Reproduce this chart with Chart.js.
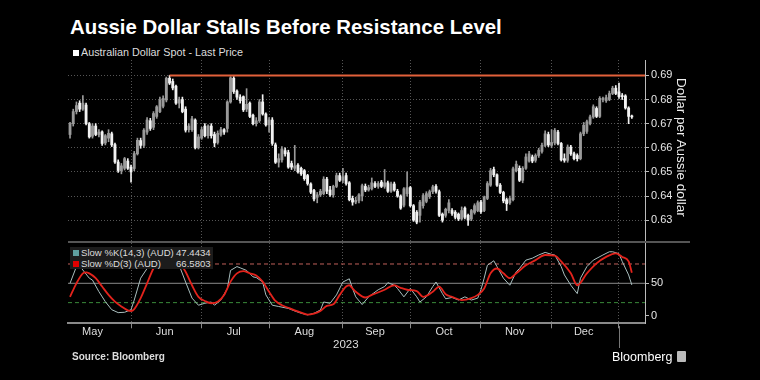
<!DOCTYPE html>
<html><head><meta charset="utf-8">
<script src="https://cdn.jsdelivr.net/npm/chart.js@4.4.0/dist/chart.umd.min.js"></script>
<style>
html,body{margin:0;padding:0;background:#000;width:760px;height:380px;overflow:hidden;}
#wrap{position:relative;width:760px;height:380px;background:#000;}
.t{position:absolute;color:#fff;font-family:"Liberation Sans",Arial,sans-serif;white-space:nowrap;line-height:1;}
canvas{position:absolute;left:0;}
</style></head><body>
<div id="wrap">
<div class="t" style="left:70px;top:17px;font-size:20.4px;font-weight:bold;">Aussie Dollar Stalls Before Resistance Level</div>
<div class="t" style="left:73px;top:47px;font-size:10.8px;color:#ddd;"><span style="display:inline-block;width:6px;height:6px;background:#fff;margin-right:2px;"></span>Australian Dollar Spot - Last Price</div>
<canvas id="c1" width="760" height="182" style="top:60px;"></canvas>
<div style="position:absolute;left:68px;top:241px;width:622px;height:2px;background:#555;"></div>
<canvas id="c2" width="760" height="110" style="top:243px;"></canvas>
<div class="t" style="left:674px;top:78px;font-size:13.5px;color:#eee;writing-mode:vertical-rl;">Dollar per Aussie dollar</div>
<div style="position:absolute;left:70px;top:247px;width:143px;height:22px;background:#1c1c1c;"></div>
<div class="t" style="left:73px;top:248px;font-size:9.6px;color:#ddd;"><span style="display:inline-block;width:6px;height:6px;background:#5f9f9f;margin-right:2px;"></span>Slow %K(14,3) (AUD)</div>
<div class="t" style="left:176px;top:248px;font-size:9.6px;color:#ddd;">47.4434</div>
<div class="t" style="left:73px;top:259px;font-size:9.6px;color:#ddd;"><span style="display:inline-block;width:6px;height:6px;background:#e00000;margin-right:2px;"></span>Slow %D(3) (AUD)</div>
<div class="t" style="left:176px;top:259px;font-size:9.6px;color:#ddd;">66.5803</div>
<div class="t" style="left:333px;top:339px;font-size:11.5px;color:#ddd;">2023</div>
<div style="position:absolute;left:619px;top:326px;width:1px;height:22px;background:#777;"></div>
<div class="t" style="left:72px;top:352px;font-size:10px;color:#ddd;font-weight:bold;">Source: Bloomberg</div>
<div class="t" style="left:612px;top:351px;font-size:12.5px;color:#fff;">Bloomberg</div>
<div style="position:absolute;left:677px;top:351px;width:9px;height:11px;background:#bbb;border-radius:1px;"></div>
</div>
<script>
// ---- data ----
const monthNames = ['May','Jun','Jul','Aug','Sep','Oct','Nov','Dec'];
// trading-day index of the first session of each month (index 0 = first candle)
const monthStart = [-4,19,41,62,85,106,128,150,171];
const priceTicks = [0.63,0.64,0.65,0.66,0.67,0.68,0.69];
const stochTicks = [0,50];
const stochUpper = 80, stochMid = 50, stochLower = 20;
const resistanceLevel = 0.69;
const resistanceFromIdx = 31;

const openP = [.6655,.6700,.6750,.6785,.6760,.6777,.6700,.6648,.6690,.6655,.6666,.6620,.6640,.6658,.6613,.6541,.6505,.6515,.6545,.6520,
.6514,.6575,.6630,.6610,.6665,.6712,.6685,.6730,.6750,.6772,.6798,.6888,.6875,.6855,.6785,.6800,.6760,.6675,.6675,.6715,
.6600,.6640,.6690,.6650,.6690,.6655,.6622,.6655,.6675,.6680,.6790,.6888,.6835,.6810,.6812,.6760,.6785,.6735,.6700,.6712,
.6790,.6740,.6695,.6715,.6612,.6540,.6550,.6588,.6580,.6535,.6515,.6528,.6515,.6505,.6485,.6450,.6423,.6395,.6405,.6410,
.6470,.6425,.6405,.6440,.6485,.6465,.6485,.6455,.6390,.6375,.6382,.6400,.6440,.6425,.6430,.6452,.6440,.6458,.6440,.6455,
.6420,.6450,.6420,.6400,.6362,.6410,.6435,.6360,.6333,.6320,.6360,.6378,.6398,.6418,.6440,.6418,.6325,.6320,.6340,.6340,
.6333,.6325,.6305,.6350,.6320,.6305,.6332,.6340,.6375,.6340,.6390,.6445,.6510,.6488,.6445,.6415,.6385,.6372,.6385,.6505,
.6515,.6465,.6515,.6545,.6562,.6548,.6568,.6585,.6610,.6655,.6610,.6620,.6665,.6618,.6555,.6548,.6603,.6575,.6568,.6555,
.6658,.6668,.6700,.6728,.6763,.6730,.6800,.6795,.6800,.6825,.6847,.6832,.6815,.6815,.6765,.6730];
const highP = [.6705,.6760,.6790,.6795,.6816,.6785,.6705,.6700,.6700,.6675,.6670,.6655,.6675,.6665,.6620,.6550,.6535,.6560,.6555,.6528,
.6585,.6640,.6640,.6680,.6725,.6722,.6750,.6775,.6810,.6815,.6893,.6900,.6885,.6860,.6810,.6810,.6770,.6700,.6730,.6720,
.6655,.6685,.6700,.6695,.6700,.6665,.6670,.6685,.6680,.6795,.6895,.6895,.6840,.6820,.6815,.6845,.6790,.6740,.6725,.6800,
.6820,.6745,.6725,.6725,.6620,.6575,.6605,.6600,.6590,.6545,.6610,.6535,.6520,.6510,.6490,.6455,.6428,.6415,.6428,.6480,
.6478,.6440,.6445,.6495,.6495,.6515,.6495,.6460,.6400,.6395,.6410,.6450,.6450,.6445,.6475,.6460,.6460,.6465,.6510,.6462,
.6458,.6458,.6428,.6405,.6435,.6500,.6440,.6365,.6340,.6382,.6410,.6418,.6425,.6445,.6448,.6425,.6330,.6350,.6385,.6348,
.6340,.6330,.6355,.6355,.6325,.6345,.6368,.6380,.6382,.6400,.6460,.6515,.6520,.6492,.6452,.6420,.6392,.6400,.6520,.6545,
.6525,.6522,.6575,.6585,.6570,.6575,.6598,.6620,.6670,.6665,.6675,.6680,.6672,.6622,.6575,.6612,.6610,.6582,.6575,.6665,
.6705,.6715,.6735,.6778,.6770,.6812,.6810,.6818,.6835,.6855,.6858,.6868,.6825,.6820,.6770,.6735];
const lowP = [.6640,.6690,.6740,.6750,.6755,.6695,.6640,.6640,.6650,.6645,.6610,.6612,.6625,.6605,.6535,.6498,.6492,.6508,.6510,.6458,
.6505,.6570,.6598,.6600,.6655,.6672,.6675,.6722,.6745,.6765,.6790,.6862,.6840,.6780,.6765,.6745,.6665,.6665,.6668,.6595,
.6595,.6635,.6645,.6640,.6640,.6604,.6615,.6648,.6655,.6665,.6785,.6825,.6800,.6785,.6750,.6750,.6725,.6695,.6690,.6705,
.6735,.6690,.6665,.6610,.6535,.6520,.6540,.6565,.6515,.6510,.6505,.6495,.6485,.6465,.6445,.6410,.6380,.6372,.6398,.6405,
.6410,.6398,.6395,.6435,.6460,.6455,.6445,.6380,.6362,.6368,.6372,.6380,.6418,.6420,.6425,.6435,.6432,.6435,.6432,.6415,
.6415,.6420,.6395,.6345,.6355,.6400,.6355,.6295,.6285,.6292,.6350,.6372,.6390,.6410,.6412,.6315,.6292,.6312,.6330,.6320,
.6305,.6298,.6300,.6305,.6278,.6298,.6325,.6335,.6328,.6335,.6385,.6440,.6480,.6440,.6410,.6372,.6340,.6365,.6380,.6500,
.6460,.6455,.6510,.6540,.6538,.6540,.6560,.6578,.6605,.6605,.6600,.6612,.6612,.6545,.6540,.6540,.6568,.6550,.6545,.6550,
.6650,.6660,.6695,.6722,.6725,.6725,.6790,.6788,.6795,.6820,.6820,.6805,.6800,.6760,.6700,.6722];
const closeP = [.6700,.6750,.6775,.6760,.6785,.6700,.6645,.6690,.6655,.6665,.6618,.6650,.6660,.6612,.6541,.6506,.6525,.6555,.6515,.6500,
.6576,.6631,.6610,.6673,.6715,.6680,.6742,.6770,.6798,.6805,.6888,.6868,.6848,.6785,.6800,.6750,.6673,.6690,.6720,.6600,
.6645,.6675,.6650,.6690,.6650,.6620,.6660,.6675,.6665,.6790,.6890,.6833,.6810,.6795,.6757,.6780,.6730,.6700,.6712,.6790,
.6740,.6695,.6715,.6618,.6540,.6555,.6595,.6575,.6520,.6520,.6525,.6500,.6492,.6472,.6452,.6416,.6388,.6405,.6420,.6470,
.6420,.6405,.6440,.6485,.6465,.6480,.6452,.6385,.6375,.6382,.6405,.6443,.6425,.6435,.6455,.6440,.6452,.6440,.6455,.6420,
.6450,.6425,.6400,.6350,.6430,.6435,.6360,.6300,.6292,.6375,.6402,.6410,.6418,.6438,.6420,.6320,.6300,.6345,.6372,.6328,
.6312,.6305,.6340,.6312,.6300,.6340,.6360,.6372,.6335,.6395,.6452,.6505,.6488,.6445,.6415,.6380,.6368,.6390,.6513,.6532,
.6465,.6515,.6562,.6575,.6545,.6568,.6590,.6610,.6658,.6612,.6622,.6672,.6618,.6550,.6548,.6603,.6575,.6555,.6555,.6658,
.6693,.6708,.6728,.6770,.6730,.6805,.6802,.6808,.6825,.6847,.6825,.6812,.6812,.6765,.6730,.6728];

const kIdx = [0,2,3,6,7,9,11,13,15,17,19,20,22,24,26,28,30,32,33,34,36,38,40,42,44,45,47,49,50,52,53,55,57,58,60,61,63,65,68,70,72,74,76,78,79,81,83,85,87,88,89,91,93,96,98,99,101,102,104,106,108,109,111,113,114,116,117,119,121,123,125,127,128,129,130,132,133,135,137,139,140,142,144,146,148,150,151,153,154,156,158,159,161,163,166,168,169,171,172,174,175];
const kVal = [50,76,77,58,55,37,21.5,9,4.5,5,9,24,58,73,81,89,94,95,90,78,52,27,16,19,21,16,24,42,70,76,74,70,60,59,52,32,16,14,11,7,3.5,1,3.5,8.6,21,19,32,52,57,42,29,17,29,40,45,51,47,42,29,42,29,21,29,45,52,34,26,28,24,29,24,27,40,58,78,85,76,58,47,68,73,86,89,94,98,95,94,76,63,47,34,58,76,86,94,99,99,96,84,63,47.44];
const dIdx = [0,2,4,5,6,8,10,12,14,16,18,19,20,22,24,26,28,30,31,32,34,36,38,40,42,44,46,48,50,52,54,56,58,60,62,64,66,68,70,72,74,76,78,80,82,84,86,87,88,89,92,94,98,101,103,105,108,110,113,115,117,119,122,125,127,129,131,133,135,137,139,142,145,148,151,153,156,158,161,164,167,170,172,174,175];
const dVal = [29,50,65.5,67,65.5,58,45,32,21.5,14,8,7,10,27,50,73,86,93,95,94,83.6,68,47,29,22.6,19,21.5,32,52.6,65.5,69,65.5,62,52.6,37,22.6,16,12,8,4.5,1.4,3,7,15,17.4,32,45,47,42,37,28,32,40,47,43,40,38,29,37,45,33,29,24,27,32,42,65.5,73,65.5,58,65.5,78,86,94,93,84,65.5,47,65.5,81,91,96.5,91,84,66.58];

// ---- layout constants ----
const X_MIN = -0.63, X_MAX = 179.1;
const P_MIN = 0.62096, P_MAX = 0.696375;
const S_MIN = -12.1, S_MAX = 112.6;

Chart.defaults.font.family = '"Liberation Sans",Arial,sans-serif';
Chart.defaults.color = '#e0e0e0';

const upCol = '#9a9a9a', downCol = '#f2f2f2';
const candleCol = closeP.map((c, i) => c < openP[i] ? downCol : upCol);
const monthMid = monthNames.map((m, i) => (monthStart[i] + monthStart[i + 1] - 1) / 2);

const baseOpts = {
  responsive: false, animation: false, events: [],
  plugins: { legend: { display: false }, tooltip: { enabled: false } }
};

new Chart(document.getElementById('c1'), {
  type: 'bar',
  data: {
    datasets: [
      { type: 'line', data: [{ x: resistanceFromIdx, y: resistanceLevel }, { x: X_MAX, y: resistanceLevel }],
        borderColor: '#e2603a', borderWidth: 2, pointRadius: 0, order: 0 },
      { type: 'bar', data: highP.map((h, i) => ({ x: i, y: [lowP[i], h] })),
        backgroundColor: candleCol, barThickness: 1, grouped: false, order: 2 },
      { type: 'bar', data: openP.map((o, i) => ({ x: i, y: [o, closeP[i]] })),
        backgroundColor: candleCol, barThickness: 2.2, minBarLength: 1, grouped: false, order: 1 }
    ]
  },
  options: Object.assign({}, baseOpts, {
    layout: { padding: { left: 68, right: 0, top: 0, bottom: 0 } },
    scales: {
      x: {
        type: 'linear', min: X_MIN, max: X_MAX, offset: false,
        afterBuildTicks: s => { s.ticks = monthStart.filter(v => v > X_MIN && v < X_MAX).map(v => ({ value: v })); },
        ticks: { display: false },
        grid: { color: '#555', lineWidth: 1, drawTicks: false, offset: false },
        border: { display: false, dash: [1, 2] },
        afterFit: s => { s.height = 0; }
      },
      y: {
        type: 'linear', position: 'right', min: P_MIN, max: P_MAX,
        afterBuildTicks: s => { s.ticks = priceTicks.map(v => ({ value: v })); },
        ticks: { color: '#e6e6e6', font: { size: 11 }, padding: 2, callback: v => v.toFixed(2) },
        grid: { color: '#555', tickColor: '#bbb', tickLength: 4, drawTicks: true },
        border: { display: true, color: '#bbb', width: 1, dash: [1, 2] },
        afterFit: s => { s.width = 115; s.paddingTop = 0; s.paddingBottom = 0; }
      }
    }
  })
});

const lvl = (v) => [{ x: X_MIN, y: v }, { x: X_MAX, y: v }];
new Chart(document.getElementById('c2'), {
  type: 'line',
  data: {
    datasets: [
      { data: lvl(stochUpper), borderColor: '#c0605a', borderWidth: 1, borderDash: [4, 3], pointRadius: 0, order: 5 },
      { data: lvl(stochMid), borderColor: '#8a8a8a', borderWidth: 1, pointRadius: 0, order: 5 },
      { data: lvl(stochLower), borderColor: '#3a8a3a', borderWidth: 1, borderDash: [4, 3], pointRadius: 0, order: 5 },
      { data: kIdx.map((x, i) => ({ x: x, y: kVal[i] })), borderColor: '#a9bebe', borderWidth: 1, pointRadius: 0, tension: 0, order: 2 },
      { data: dIdx.map((x, i) => ({ x: x, y: dVal[i] })), borderColor: '#e3231c', borderWidth: 1.8, pointRadius: 0, tension: 0.4, cubicInterpolationMode: 'monotone', order: 1 }
    ]
  },
  options: Object.assign({}, baseOpts, {
    layout: { padding: { left: 68, right: 0, top: 0, bottom: 0 } },
    scales: {
      x: {
        type: 'linear', min: X_MIN, max: X_MAX, offset: false, weight: 0,
        afterBuildTicks: s => { s.ticks = monthStart.filter(v => v > X_MIN && v < X_MAX).map(v => ({ value: v })); },
        ticks: { display: false },
        grid: { color: '#555', lineWidth: 1, drawTicks: true, tickLength: 5, tickColor: '#888' },
        border: { display: true, color: '#8a8a8a', width: 2, dash: [1, 2] },
        afterFit: s => { s.height = 0; }
      },
      x2: {
        type: 'linear', position: 'bottom', min: X_MIN, max: X_MAX, offset: false, weight: 1,
        afterBuildTicks: s => { s.ticks = monthMid.map(v => ({ value: v })); },
        ticks: { color: '#dddddd', font: { size: 11 }, padding: 2, autoSkip: false, maxRotation: 0,
                 callback: (v, i) => monthNames[i] },
        grid: { display: false, drawTicks: false },
        border: { display: false },
        afterFit: s => { s.height = 110 - 80.3; }
      },
      y: {
        type: 'linear', position: 'right', min: S_MIN, max: S_MAX,
        afterBuildTicks: s => { s.ticks = stochTicks.map(v => ({ value: v })); },
        ticks: { color: '#e6e6e6', font: { size: 11 }, padding: 2 },
        grid: { drawOnChartArea: false, tickColor: '#bbb', tickLength: 4 },
        border: { display: true, color: '#bbb', width: 1 },
        afterFit: s => { s.width = 115; s.paddingTop = 0; s.paddingBottom = 0; }
      }
    }
  })
});
</script>
</body></html>
